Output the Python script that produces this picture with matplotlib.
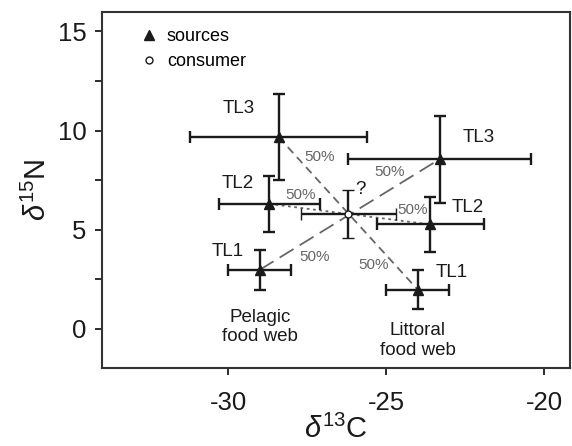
import matplotlib
matplotlib.use("Agg")
import matplotlib.pyplot as plt
from matplotlib.lines import Line2D

plt.rcParams['font.family'] = ['Liberation Sans', 'DejaVu Sans']
plt.rcParams['mathtext.fontset'] = 'custom'
plt.rcParams['mathtext.rm'] = 'Liberation Sans'
plt.rcParams['mathtext.it'] = 'Liberation Sans:italic'
plt.rcParams['axes.unicode_minus'] = False

# trophic levels of the two food webs (sources)
levels = ["TL1", "TL2", "TL3"]
pelagic_c = [-29.0, -28.7, -28.4]
pelagic_n = [2.97, 6.3, 9.67]
pelagic_c_err = [1.0, 1.6, 2.8]
pelagic_n_err = [1.0, 1.4, 2.17]

littoral_c = [-24.0, -23.6, -23.3]
littoral_n = [1.97, 5.26, 8.56]
littoral_c_err = [1.0, 1.7, 2.9]
littoral_n_err = [1.0, 1.4, 2.2]

consumer_c = -26.2
consumer_n = 5.78
consumer_c_err = 1.5
consumer_n_err = 1.2

xticks = [-30, -25, -20]
yticks = [0, 5, 10, 15]

ink = '#1a1a1a'
grey = '#666666'

fig = plt.figure(figsize=(5.72, 4.46), dpi=100)
ax = fig.add_axes([0.1778, 0.1742, 0.8187, 0.7996])

# mixing lines, pelagic level i paired with littoral level 2-i (TL2 with TL2)
styles = {0: (0, (9, 4)), 1: (0, (1.5, 2)), 2: (0, (4.5, 3))}
for i in range(3):
    j = 2 - i
    ax.plot([pelagic_c[i], littoral_c[j]], [pelagic_n[i], littoral_n[j]],
            color=grey, lw=1.3, linestyle=styles[i], zorder=1)

ekw = dict(fmt='^', color=ink, ecolor=ink, elinewidth=1.7, capsize=4.5,
           capthick=1.7, markersize=6.5, zorder=3)
ax.errorbar(pelagic_c, pelagic_n, xerr=pelagic_c_err, yerr=pelagic_n_err, **ekw)
ax.errorbar(littoral_c, littoral_n, xerr=littoral_c_err, yerr=littoral_n_err, **ekw)
ax.errorbar([consumer_c], [consumer_n], xerr=[consumer_c_err], yerr=[consumer_n_err],
            fmt='o', color=ink, ecolor=ink, mfc='white', mec=ink, mew=1.0,
            elinewidth=1.7, capsize=4.5, capthick=1.7, markersize=5, zorder=4)

# labels
pel_lab = [(-30.0, 3.9), (-29.69, 7.33), (-29.65, 11.09)]
lit_lab = [(-22.92, 2.85), (-22.4, 6.12), (-22.08, 9.67)]
for name, (x, y) in zip(levels, pel_lab):
    ax.text(x, y, name, fontsize=13.5, ha='center', va='center', color=ink)
for name, (x, y) in zip(levels, lit_lab):
    ax.text(x, y, name, fontsize=13.5, ha='center', va='center', color=ink)

ax.text(-29.0, 0.08, "Pelagic\nfood web", fontsize=13.5, ha='center', va='center',
        color=ink, linespacing=1.2)
ax.text(-24.0, -0.59, "Littoral\nfood web", fontsize=13.5, ha='center', va='center',
        color=ink, linespacing=1.2)

for x, y in [(-27.09, 8.67), (-24.88, 7.93), (-27.71, 6.76),
             (-24.15, 5.99), (-27.25, 3.6), (-25.4, 3.22)]:
    ax.text(x, y, "50%", fontsize=11, ha='center', va='center', color=grey)
ax.text(-25.8, 7.0, "?", fontsize=13.5, ha='center', va='center', color=ink)

handles = [Line2D([], [], ls='none', marker='^', color=ink, markersize=6.5),
           Line2D([], [], ls='none', marker='o', mfc='white', mec=ink, mew=1.0,
                  markersize=5)]
ax.legend(handles, ["sources", "consumer"], loc='upper left', frameon=False,
          fontsize=13, handlelength=0.8, handletextpad=0.6, labelspacing=0.45,
          borderaxespad=0, bbox_to_anchor=(0.07, 0.975))

ax.set_xlim(-34, -19.18)
ax.set_ylim(-2, 16)
ax.set_xticks(xticks)
ax.set_yticks(yticks)
ax.set_yticks([2.5, 7.5, 12.5], minor=True)
ax.tick_params(which='both', direction='out', length=5, width=1.3, color=ink,
               labelsize=18.5, labelcolor=ink)
ax.tick_params(axis='x', pad=11)
ax.tick_params(axis='y', pad=6)
for s in ax.spines.values():
    s.set_linewidth(1.5)
    s.set_color('#333333')

ax.set_xlabel(r'$\it{\delta}^{13}$C', fontsize=21, color=ink, labelpad=0)
ax.set_ylabel(r'$\it{\delta}^{15}$N', fontsize=21, color=ink, labelpad=4)

fig.savefig("out.png", dpi=100)
